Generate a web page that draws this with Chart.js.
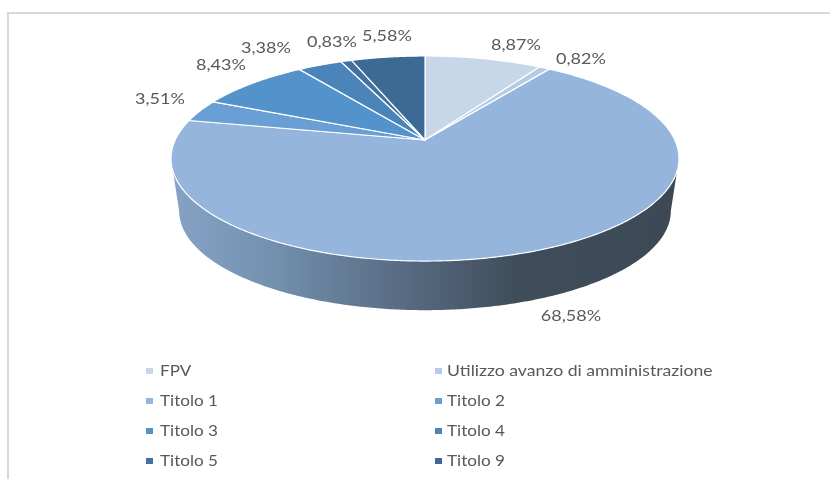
<!DOCTYPE html>
<html>
<head>
<meta charset="utf-8">
<style>html,body{margin:0;padding:0;background:#fff}canvas{display:block}</style>
<script src="https://cdn.jsdelivr.net/npm/chart.js@4/dist/chart.umd.min.js"></script>
</head>
<body>
<canvas id="c" width="830" height="479"></canvas>
<script>
const categories = ["FPV","Utilizzo avanzo di amministrazione","Titolo 1","Titolo 2","Titolo 3","Titolo 4","Titolo 5","Titolo 9"];
const shares = [8.87,0.82,68.58,3.51,8.43,3.38,0.83,5.58];
const shareLabels = ["8,87%","0,82%","68,58%","3,51%","8,43%","3,38%","0,83%","5,58%"];
const sliceColors = ["#c8d6e9","#b4cbe6","#95b5dd","#6a9fd6","#5392ca","#4b84b9","#41729f","#3d6a94"];

// label centres, legend layout and perspective of the tilted disc
const labelCentres = [[516,45],[581,59],[571,316],[160,99],[221,65],[266,48],[332,42],[387,36]];
const legendCols = [146,435], legendTextCols = [160,447], legendRows = [371,401,431,461];
const TEXT = "#595959", FONT = '15px Lato';
const LABEL_STRETCH = 1.2, LEGEND_STRETCH = 1.14, LONG_STRETCH = 1.175;
const top3d = {cx:425, cy:140, a:249.8, b:99.2, k:0.1806};
const low3d = {cx:425, cy:193, a:241.8, b:96.0, k:0.1806};

function rim(p, alpha){
  const t = alpha + Math.PI/2, u = Math.sin(t), v = Math.cos(t), w = 1 + p.k*v;
  return [p.cx + p.a*u/w, p.cy - p.b*v/w];
}
function arcPoints(p, a0, a1){
  const n = Math.max(2, Math.ceil(Math.abs(a1-a0)/0.01)), out = [];
  for(let i=0;i<=n;i++) out.push(rim(p, a0+(a1-a0)*i/n));
  return out;
}
function text(ctx, s, x, y, align, stretch){
  ctx.save();
  ctx.translate(x, y);
  ctx.scale(stretch, 1);
  ctx.font = FONT; ctx.fillStyle = TEXT; ctx.textAlign = align; ctx.textBaseline = 'middle';
  ctx.fillText(s, 0, 0);
  ctx.restore();
}
const pie3d = {
  id:'pie3d',
  beforeDraw(chart){
    const ctx = chart.ctx;
    ctx.fillStyle = '#d9d9d9';
    ctx.fillRect(7,12,823,2);
    ctx.fillRect(7,12,2,467);
  },
  beforeDatasetDraw(chart){
    const ctx = chart.ctx, arcs = chart.getDatasetMeta(0).data;
    const g = ctx.createLinearGradient(172,0,680,0);
    g.addColorStop(0,'#86a3c7'); g.addColorStop(0.2,'#7390ae'); g.addColorStop(0.45,'#586c83');
    g.addColorStop(0.68,'#3f4d5b'); g.addColorStop(1,'#3c4955');
    // only the front of the rim, between the two silhouette angles, can be seen
    const edge = Math.acos(-top3d.k);
    const frontStart = edge - Math.PI/2, frontEnd = 2*Math.PI - edge - Math.PI/2;
    arcs.forEach(arc=>{
      const a0 = Math.max(arc.startAngle, frontStart), a1 = Math.min(arc.endAngle, frontEnd);
      if(a1 <= a0) return;
      const outline = arcPoints(top3d, a0, a1).concat(arcPoints(low3d, a0, a1).reverse());
      ctx.beginPath();
      outline.forEach((q,i)=> i?ctx.lineTo(q[0],q[1]):ctx.moveTo(q[0],q[1]));
      ctx.closePath();
      ctx.fillStyle = g; ctx.fill();
    });
    arcs.forEach((arc,i)=>{
      ctx.beginPath();
      ctx.moveTo(top3d.cx, top3d.cy);
      arcPoints(top3d, arc.startAngle, arc.endAngle).forEach(q=>ctx.lineTo(q[0],q[1]));
      ctx.closePath();
      ctx.fillStyle = sliceColors[i]; ctx.fill();
      ctx.strokeStyle = '#ffffff'; ctx.lineWidth = 1.2; ctx.lineJoin = 'round'; ctx.stroke();
    });
    return false;
  },
  afterDraw(chart){
    const ctx = chart.ctx;
    shareLabels.forEach((s,i)=> text(ctx, s, labelCentres[i][0], labelCentres[i][1], 'center', LABEL_STRETCH));
    categories.forEach((name,i)=>{
      const c = i%2, y = legendRows[Math.floor(i/2)];
      ctx.fillStyle = sliceColors[i];
      ctx.fillRect(legendCols[c], y-3, 7, 6);
      text(ctx, name, legendTextCols[c], y, 'left', name.length > 20 ? LONG_STRETCH : LEGEND_STRETCH);
    });
  }
};
new Chart(document.getElementById('c'), {
  type:'pie',
  data:{labels:categories, datasets:[{data:shares, backgroundColor:sliceColors, borderColor:'#ffffff'}]},
  options:{responsive:false, animation:false, events:[],
    plugins:{legend:{display:false}, tooltip:{enabled:false}, title:{display:false}}},
  plugins:[pie3d]
});
</script>
</body>
</html>
